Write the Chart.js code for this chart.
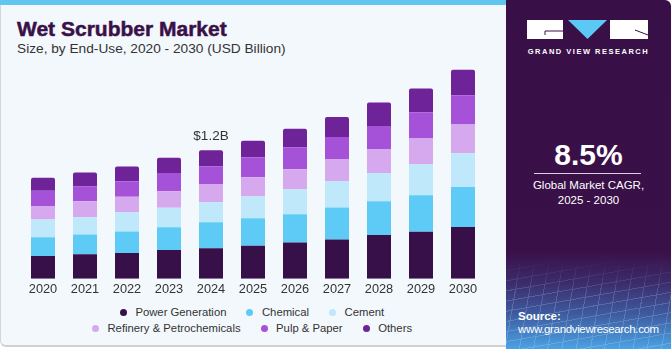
<!DOCTYPE html>
<html>
<head>
<meta charset="utf-8">
<script src="https://cdn.jsdelivr.net/npm/chart.js@4.4.0/dist/chart.umd.min.js"></script>
<style>
  html, body { margin: 0; padding: 0; background: #ffffff; }
  body { width: 671px; height: 350px; position: relative; overflow: hidden; font-family: "Liberation Sans", Arial, sans-serif; }
  #left { position: absolute; left: 0; top: 0; width: 506px; height: 347px; background: #f3f8fc;
          border-left: 1px solid #d4d7da; border-bottom: 2px solid #cfd2d5; border-bottom-left-radius: 6px; box-sizing: border-box; }
  #stripe { position: absolute; left: 0; top: 0; width: 506px; height: 5px; background: #5fc6f0; }
  #title { position: absolute; left: 17px; top: 18px; font-size: 21px; line-height: 1; font-weight: bold; color: #3a1048;
           -webkit-text-stroke: 0.5px #3a1048; white-space: nowrap; }
  #subtitle { position: absolute; left: 17px; top: 41.5px; font-size: 13.7px; line-height: 1; color: #333333; white-space: nowrap; }
  #chartBox { position: absolute; left: 0; top: 60px; width: 505px; height: 240px; }
  #legend { position: absolute; left: 72px; top: 304px; width: 360px; display: flex; flex-wrap: wrap; justify-content: center;
            font-size: 11.3px; color: #333333; }
  .item { display: flex; align-items: center; height: 16px; margin: 0 10px; white-space: nowrap; }
  .dot { width: 7px; height: 7px; border-radius: 50%; margin-right: 8.5px; }
  #right { position: absolute; left: 506px; top: 0; width: 165px; height: 349px; border-top-right-radius: 6px; overflow: hidden;
           background: linear-gradient(to bottom, #380f47 0%, #3a1048 72%, #3b2c6c 81%, #3e5ba0 90%, #4aa3e5 100%); }
  #grid { position: absolute; left: 0; top: 260px; width: 165px; height: 89px; opacity: 0.18;
          background:
            repeating-linear-gradient(100deg, rgba(255,255,255,0.9) 0 1px, transparent 1px 14px),
            repeating-linear-gradient(170deg, rgba(255,255,255,0.9) 0 1px, transparent 1px 10px);
          -webkit-mask-image: linear-gradient(to bottom, transparent, #000 40%); }
  #logo { position: absolute; left: 21px; top: 20px; }
  #gvr { position: absolute; left: 0; width: 165px; top: 47px; text-align: center; font-size: 7.5px; font-weight: bold; color: #ffffff;
         letter-spacing: 1.5px; white-space: nowrap; }
  #cagr { position: absolute; left: 0; width: 165px; top: 140px; text-align: center; font-size: 30px; line-height: 1; font-weight: bold; color: #ffffff; }
  #rule { position: absolute; left: 28px; width: 107px; top: 173px; height: 1px; background: #d8d0de; }
  #cagrText { position: absolute; left: 0; width: 165px; top: 178px; text-align: center; font-size: 11.5px; line-height: 15.3px; color: #ffffff; }
  #src1 { position: absolute; left: 12px; top: 310px; font-size: 11.5px; font-weight: bold; color: #ffffff; }
  #src2 { position: absolute; left: 12px; top: 323px; font-size: 11.5px; color: #ffffff; letter-spacing: -0.35px; white-space: nowrap; }
</style>
</head>
<body>
<div id="left"></div>
<div id="stripe"></div>
<div id="title">Wet Scrubber Market</div>
<div id="subtitle">Size, by End-Use, 2020 - 2030 (USD Billion)</div>
<div id="chartBox"><canvas id="Chart"></canvas></div>
<div id="legend"></div>

<div id="right">
  <div id="grid"></div>
  <svg id="logo" width="122" height="20" viewBox="0 0 122 20">
    <rect x="0" y="0" width="36" height="19" fill="#ffffff"/>
    <path d="M18 11 H36 M18 11 V15" stroke="#3a1048" stroke-width="1" fill="none"/>
    <polygon points="41,0 80,0 60.5,19" fill="#5bc8f5"/>
    <rect x="83" y="0" width="38" height="19" fill="#ffffff"/>
    <path d="M108 10 L121 15" stroke="#3a1048" stroke-width="1" fill="none"/>
  </svg>
  <div id="gvr">GRAND VIEW RESEARCH</div>
  <div id="cagr">8.5%</div>
  <div id="rule"></div>
  <div id="cagrText">Global Market CAGR,<br>2025 - 2030</div>
  <div id="src1">Source:</div>
  <div id="src2">www.grandviewresearch.com</div>
</div>

<script>
const years = ['2020', '2021', '2022', '2023', '2024', '2025', '2026', '2027', '2028', '2029', '2030'];
const segmentNames = ['Power Generation', 'Chemical', 'Cement', 'Refinery & Petrochemicals', 'Pulp & Paper', 'Others'];
const segmentColors = ['#37104a', '#5ecbf7', '#bfe9fa', '#d6a9ee', '#a552d8', '#6e2399'];

// USD Billion
const powerGeneration = [0.213, 0.228, 0.241, 0.269, 0.284, 0.309, 0.338, 0.366, 0.409, 0.440, 0.484];
const chemical        = [0.174, 0.185, 0.200, 0.212, 0.244, 0.256, 0.265, 0.300, 0.316, 0.340, 0.375];
const cement          = [0.166, 0.162, 0.181, 0.182, 0.188, 0.203, 0.234, 0.247, 0.263, 0.290, 0.316];
const refinery        = [0.128, 0.150, 0.144, 0.156, 0.169, 0.181, 0.188, 0.206, 0.225, 0.241, 0.269];
const pulpPaper       = [0.141, 0.138, 0.146, 0.169, 0.166, 0.188, 0.206, 0.206, 0.216, 0.247, 0.272];
const others          = [0.122, 0.131, 0.138, 0.144, 0.150, 0.154, 0.172, 0.188, 0.219, 0.222, 0.240];

const calloutYear = '2024';
const calloutText = '$1.2B';

const series = [powerGeneration, chemical, cement, refinery, pulpPaper, others];

// legend (html, two rows like the original)
const legendEl = document.getElementById('legend');
segmentNames.forEach((name, i) => {
    const item = document.createElement('div');
    item.className = 'item';
    item.innerHTML = '<span class="dot" style="background:' + segmentColors[i] + '"></span>' + name.replace('&', '&amp;');
    legendEl.appendChild(item);
});

const calloutPlugin = {
    id: 'callout',
    afterDatasetsDraw(chart) {
        const idx = years.indexOf(calloutYear);
        let total = 0;
        series.forEach(s => total += s[idx]);
        const x = chart.scales.x.getPixelForValue(idx);
        const y = chart.scales.y.getPixelForValue(total);
        const ctx = chart.ctx;
        ctx.save();
        ctx.font = '13.5px "Liberation Sans", Arial, sans-serif';
        ctx.fillStyle = '#333333';
        ctx.textAlign = 'center';
        ctx.textBaseline = 'bottom';
        ctx.fillText(calloutText, x, y - 7);
        ctx.restore();
    }
};

const ctx = document.getElementById('Chart').getContext('2d');
const myChart = new Chart(ctx, {
    type: 'bar',
    data: {
        labels: years,
        datasets: series.map((data, i) => ({
            label: segmentNames[i],
            data: data,
            backgroundColor: segmentColors[i],
            borderWidth: 0,
            borderSkipped: false,
            borderRadius: i === series.length - 1 ? { topLeft: 2, topRight: 2, bottomLeft: 0, bottomRight: 0 } : 0,
            categoryPercentage: 1,
            barPercentage: 0.5714
        }))
    },
    options: {
        responsive: true,
        maintainAspectRatio: false,
        animation: false,
        layout: { padding: { left: 22, right: 21, top: 5, bottom: 0 } },
        plugins: {
            legend: { display: false },
            tooltip: { enabled: false }
        },
        scales: {
            x: {
                stacked: true,
                grid: { display: false, drawTicks: false },
                border: { display: false },
                ticks: { color: '#333333', padding: 3, font: { family: '"Liberation Sans", Arial, sans-serif', size: 12.8 } }
            },
            y: {
                stacked: true,
                display: false,
                min: 0,
                max: 2.0
            }
        }
    },
    plugins: [calloutPlugin]
});
</script>
</body>
</html>
